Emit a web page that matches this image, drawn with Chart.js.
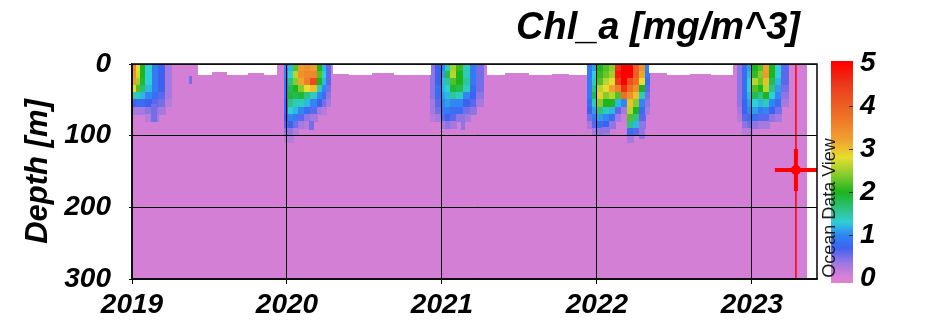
<!DOCTYPE html>
<html>
<head>
<meta charset="utf-8">
<script src="https://cdn.jsdelivr.net/npm/chart.js@4/dist/chart.umd.min.js"></script>
<style>
  html, body { margin: 0; padding: 0; background: #ffffff; }
  canvas { display: block; }
</style>
</head>
<body>
<canvas id="section" width="935" height="325"></canvas>
<script>
// ---- axes ----
const yearTicks = [2019, 2020, 2021, 2022, 2023];
const depthTicks = [0, 50, 100, 150, 200, 250, 300];
const depthLabels = [0, 100, 200, 300];
const colorTicks = [0, 1, 2, 3, 4, 5];
const timeMin = 2019;
const timeMax = 2023.42;

// ---- colour palette (Chl_a value -> colour) ----
const paletteValues = [0, 0.35, 0.7, 1.0, 1.3, 1.6, 2.0, 2.4, 2.8, 3.2, 3.8, 4.5, 5.0];
const paletteColors = ['#dc80d4', '#9c78e2', '#3e62f0', '#2f86f4', '#2ecfd6', '#2ec283',
                       '#1db41d', '#86cc2e', '#e6de2c', '#f0a22e', '#ee6e26', '#ea3a1c', '#ff0000'];

// ---- gridded field ----
const fieldStart = 2019.0;
const fieldEnd = 2023.355;
const fieldBottom = 300;
const fieldChl = 0.05;            // deep, low-chlorophyll water
const profileDepths = [0, 10, 20, 30, 40, 50, 60, 70, 80, 90, 100, 110, 120];

// spring bloom profiles: column edges (decimal year) and Chl_a per 10 m layer
const bloom2019Edges = [2019.000, 2019.032, 2019.058, 2019.090, 2019.135, 2019.168, 2019.213, 2019.258];
const bloom2019Chl = [
  [3.5, 3.4, 3.3, 2.8, 1.4, 0.7, 0.3],
  [2.8, 2.7, 2.5, 2.2, 1.4, 0.8, 0.3],
  [2.0, 2.0, 1.9, 1.7, 1.2, 0.8, 0.3],
  [1.3, 1.3, 1.3, 1.2, 1.0, 0.7, 0.4, 0.2],
  [0.9, 0.9, 0.9, 0.9, 0.8, 0.6, 0.4, 0.3],
  [0.7, 0.7, 0.7, 0.7, 0.6, 0.5, 0.3],
  [0.3, 0.3, 0.3, 0.3, 0.3, 0.2]
];

const bloom2020Edges = [2019.987, 2020.013, 2020.045, 2020.077, 2020.116, 2020.155, 2020.194, 2020.226, 2020.252, 2020.284];
const bloom2020Chl = [
  [1.0, 1.0, 0.9, 0.9, 0.9, 0.8, 0.8, 0.7, 0.6, 0.4, 0.2],
  [1.2, 1.3, 1.6, 1.8, 1.9, 1.6, 1.3, 1.0, 0.7, 0.4, 0.2],
  [2.2, 2.6, 2.4, 2.0, 1.8, 1.4, 1.2, 0.9, 0.5, 0.2],
  [3.3, 3.4, 3.2, 2.4, 1.9, 1.4, 1.0, 0.6, 0.3],
  [3.4, 3.5, 3.6, 2.8, 1.6, 1.2, 0.8, 0.4, 0.2],
  [3.3, 3.5, 4.3, 3.0, 1.4, 1.0, 0.6, 0.3],
  [2.0, 2.2, 2.0, 1.4, 1.0, 0.7, 0.3],
  [1.2, 1.3, 1.2, 1.0, 0.8, 0.5, 0.2],
  [0.6, 0.6, 0.6, 0.5, 0.4, 0.3]
];

const bloom2021Edges = [2020.929, 2020.961, 2020.994, 2021.026, 2021.058, 2021.097, 2021.142, 2021.187, 2021.226, 2021.265];
const bloom2021Chl = [
  [0.4, 0.4, 0.4, 0.4, 0.4, 0.3, 0.3, 0.2],
  [0.7, 0.7, 0.7, 0.8, 0.8, 0.6, 0.5, 0.3],
  [1.0, 1.1, 1.2, 1.2, 1.1, 1.0, 0.9, 0.6, 0.3],
  [1.4, 1.8, 1.5, 1.3, 1.2, 1.1, 0.9, 0.7, 0.4],
  [2.5, 2.6, 2.2, 1.9, 1.5, 1.0, 0.8, 0.6, 0.3],
  [2.1, 2.0, 2.0, 1.8, 1.4, 1.0, 0.8, 0.4],
  [1.4, 1.4, 1.5, 1.4, 1.0, 0.7, 0.5, 0.3],
  [0.9, 0.9, 0.9, 0.8, 0.7, 0.6, 0.4],
  [0.5, 0.5, 0.5, 0.5, 0.4, 0.3]
];

const bloom2022Edges = [2021.942, 2021.974, 2022.006, 2022.045, 2022.084, 2022.123, 2022.161, 2022.200, 2022.239, 2022.277, 2022.316, 2022.342];
const bloom2022Chl = [
  [0.9, 0.9, 0.9, 0.9, 0.9, 0.8, 0.7, 0.5, 0.3],
  [1.1, 1.3, 1.4, 1.6, 1.8, 1.4, 1.1, 0.9, 0.6, 0.3],
  [2.0, 2.1, 2.2, 2.6, 2.9, 2.4, 1.6, 1.1, 0.8, 0.4],
  [2.2, 2.3, 2.6, 2.8, 2.4, 2.0, 1.4, 1.0, 0.7, 0.3],
  [2.4, 2.5, 2.8, 3.2, 2.6, 2.0, 1.2, 0.8, 0.4],
  [4.6, 4.8, 4.5, 3.6, 2.2, 1.2, 0.6, 0.3],
  [5.0, 5.0, 5.0, 4.6, 3.8, 1.0, 0.3, 0.1],
  [5.0, 5.0, 4.2, 3.8, 3.4, 3.0, 2.6, 2.2, 1.6, 0.8, 0.3],
  [4.0, 4.0, 3.8, 3.4, 3.0, 2.4, 2.0, 1.6, 1.2, 0.6],
  [3.4, 3.2, 2.8, 2.0, 1.4, 1.0, 0.8, 0.6, 0.4],
  [1.0, 0.9, 0.8, 0.6, 0.5, 0.4, 0.3]
];

const bloom2023Edges = [2022.910, 2022.942, 2022.974, 2023.006, 2023.045, 2023.077, 2023.116, 2023.155, 2023.194, 2023.239];
const bloom2023Chl = [
  [0.4, 0.4, 0.4, 0.4, 0.4, 0.4, 0.3, 0.2],
  [0.8, 0.8, 0.8, 0.8, 0.8, 0.7, 0.7, 0.6, 0.4, 0.2],
  [1.1, 1.2, 1.3, 1.3, 1.2, 1.1, 1.0, 0.8, 0.5, 0.2],
  [2.0, 2.1, 2.6, 2.2, 1.8, 1.3, 1.1, 0.8, 0.4],
  [2.2, 2.4, 2.3, 2.0, 1.6, 1.2, 0.9, 0.6, 0.3],
  [3.2, 3.3, 3.0, 2.6, 2.0, 1.4, 1.0, 0.6, 0.3],
  [2.0, 2.0, 1.8, 1.6, 1.3, 1.0, 0.7, 0.4],
  [1.3, 1.3, 1.2, 1.1, 1.0, 0.8, 0.5, 0.3],
  [0.6, 0.6, 0.6, 0.5, 0.4, 0.3]
];

// isolated weak patches below and beside the blooms
const patchStart  = [2019.129, 2019.374, 2020.148, 2021.123, 2022.039, 2022.277];
const patchEnd    = [2019.155, 2019.387, 2020.168, 2021.148, 2022.084, 2022.310];
const patchTop    = [57, 18, 80, 70, 88, 88];
const patchBottom = [80, 27, 92, 92, 96, 104];
const patchChl    = [0.5, 0.5, 0.5, 0.4, 0.4, 0.4];

// near-surface layers without measurements
const gapStart = [2019.432, 2019.516, 2019.619, 2019.748, 2019.852,
                  2020.297, 2020.406, 2020.548, 2020.697, 2020.806,
                  2021.297, 2021.406, 2021.568, 2021.710, 2021.826,
                  2022.342, 2022.458, 2022.600, 2022.742];
const gapEnd   = [2019.516, 2019.619, 2019.748, 2019.852, 2019.935,
                  2020.406, 2020.548, 2020.697, 2020.806, 2020.923,
                  2021.406, 2021.568, 2021.710, 2021.826, 2021.935,
                  2022.458, 2022.600, 2022.742, 2022.877];
const gapDepth = [15, 11, 14, 12, 15,
                  13, 15, 12, 14, 15,
                  14, 12, 15, 13, 15,
                  12, 15, 13, 15];

// current station
const stationTime = 2023.284;
const stationDepth = 148;

// ---- helpers ----
function hexToRgb(h) {
  const n = parseInt(h.slice(1), 16);
  return [(n >> 16) & 255, (n >> 8) & 255, n & 255];
}
function chlColor(v) {
  const last = paletteValues.length - 1;
  v = Math.max(paletteValues[0], Math.min(paletteValues[last], v));
  for (let i = 1; i <= last; i++) {
    if (v <= paletteValues[i]) {
      const f = (v - paletteValues[i - 1]) / (paletteValues[i] - paletteValues[i - 1]);
      const a = hexToRgb(paletteColors[i - 1]), b = hexToRgb(paletteColors[i]);
      const c = a.map((av, k) => Math.round(av + (b[k] - av) * f));
      return `rgb(${c[0]},${c[1]},${c[2]})`;
    }
  }
  return paletteColors[last];
}

const blooms = [
  [bloom2019Edges, bloom2019Chl],
  [bloom2020Edges, bloom2020Chl],
  [bloom2021Edges, bloom2021Chl],
  [bloom2022Edges, bloom2022Chl],
  [bloom2023Edges, bloom2023Chl]
];

const labelFamily = "'Liberation Sans', Arial, Helvetica, sans-serif";
const tickFont = { family: labelFamily, size: 28, weight: 'bold', style: 'italic' };

// Draws the gridded Chl_a field under the datasets
const sectionPlugin = {
  id: 'chlSection',
  beforeDatasetsDraw(chart) {
    const { ctx, chartArea, scales: { x, y } } = chart;
    const cell = (t0, t1, d0, d1, color) => {
      const px0 = Math.floor(x.getPixelForValue(t0));
      const px1 = Math.ceil(x.getPixelForValue(t1));
      const py0 = Math.floor(y.getPixelForValue(d0));
      const py1 = Math.ceil(y.getPixelForValue(d1));
      ctx.fillStyle = color;
      ctx.fillRect(px0, py0, px1 - px0, py1 - py0);
    };
    ctx.save();
    ctx.beginPath();
    ctx.rect(chartArea.left, chartArea.top, chartArea.width, chartArea.height);
    ctx.clip();
    cell(fieldStart, fieldEnd, 0, fieldBottom, chlColor(fieldChl));
    blooms.forEach(([edges, profiles]) => {
      profiles.forEach((profile, i) => {
        profile.forEach((v, j) => {
          cell(edges[i], edges[i + 1], profileDepths[j], profileDepths[j + 1], chlColor(v));
        });
      });
    });
    patchChl.forEach((v, i) => cell(patchStart[i], patchEnd[i], patchTop[i], patchBottom[i], chlColor(v)));
    gapDepth.forEach((d, i) => cell(gapStart[i], gapEnd[i], 0, d, '#ffffff'));
    ctx.restore();
  },
  afterDraw(chart) {
    const { ctx, chartArea } = chart;
    ctx.save();
    // frame
    ctx.strokeStyle = '#111111';
    ctx.lineWidth = 1.6;
    ctx.strokeRect(chartArea.left, chartArea.top, chartArea.right - chartArea.left, chartArea.bottom - chartArea.top);

    // title
    ctx.fillStyle = '#000000';
    ctx.font = `italic bold 38px ${labelFamily}`;
    ctx.textAlign = 'center';
    ctx.textBaseline = 'alphabetic';
    ctx.fillText('Chl_a [mg/m^3]', 658, 39);

    // colour bar
    const barL = 831, barR = 853, yZero = 278, yFive = 63;
    const vy = v => yZero + (yFive - yZero) * v / 5;
    const grad = ctx.createLinearGradient(0, yZero, 0, yFive);
    paletteValues.forEach((v, i) => grad.addColorStop(v / 5, paletteColors[i]));
    ctx.fillStyle = grad;
    ctx.fillRect(barL, 61, barR - barL, 222);
    ctx.strokeStyle = '#333333';
    ctx.lineWidth = 1;
    colorTicks.slice(1, -1).forEach(v => {
      ctx.beginPath();
      ctx.moveTo(barR - 4, Math.round(vy(v)) + 0.5);
      ctx.lineTo(barR, Math.round(vy(v)) + 0.5);
      ctx.stroke();
    });
    ctx.fillStyle = '#000000';
    ctx.font = `italic bold 28px ${labelFamily}`;
    ctx.textAlign = 'left';
    ctx.textBaseline = 'middle';
    colorTicks.forEach(v => ctx.fillText(String(v), 860, vy(v)));

    // software credit along the bar
    ctx.translate(830, 208);
    ctx.rotate(-Math.PI / 2);
    ctx.font = `18px ${labelFamily}`;
    ctx.fillStyle = '#1a1a1a';
    ctx.textAlign = 'center';
    ctx.textBaseline = 'middle';
    ctx.fillText('Ocean Data View', 0, 0);
    ctx.restore();
  }
};

new Chart(document.getElementById('section'), {
  type: 'scatter',
  data: {
    datasets: [
      { data: [{ x: stationTime, y: stationDepth }], pointStyle: 'circle', pointRadius: 5,
        backgroundColor: '#ff0000', borderColor: '#ff0000', borderWidth: 0 },
      { data: [{ x: stationTime, y: stationDepth }], pointStyle: 'cross', pointRadius: 21,
        borderColor: '#ff0000', borderWidth: 4 },
      { data: [{ x: stationTime, y: 0 }, { x: stationTime, y: 300 }], showLine: true,
        borderColor: '#ff0000', borderWidth: 1.5, pointRadius: 0 }
    ]
  },
  options: {
    responsive: false,
    animation: false,
    devicePixelRatio: 1,
    layout: { padding: { top: 64, right: 118, left: 0, bottom: 0 } },
    plugins: { legend: { display: false }, tooltip: { enabled: false } },
    scales: {
      x: {
        type: 'linear', min: timeMin, max: timeMax, z: 1,
        afterBuildTicks: s => { s.ticks = yearTicks.map(v => ({ value: v })); },
        afterFit: s => { s.height = 46; },
        ticks: { font: tickFont, color: '#000000', padding: 4, maxRotation: 0, callback: v => String(v) },
        grid: { color: '#000000', lineWidth: 1, tickLength: 5, z: 1 },
        border: { color: '#111111', width: 1.6, z: 1 }
      },
      y: {
        type: 'linear', reverse: true, min: 0, max: 300, z: 1,
        afterBuildTicks: s => { s.ticks = depthTicks.map(v => ({ value: v })); },
        afterFit: s => { s.width = 132; },
        ticks: { font: tickFont, color: '#000000', padding: 18,
                 callback: v => depthLabels.includes(v) ? String(v) : '' },
        grid: {
          color: c => (c.tick && depthLabels.includes(c.tick.value)) ? '#000000' : 'rgba(0,0,0,0)',
          tickColor: '#000000', lineWidth: 1, tickLength: 3, z: 1
        },
        border: { color: '#111111', width: 1.6, z: 1 },
        title: { display: true, text: 'Depth [m]', color: '#000000',
                 font: { family: labelFamily, size: 31, weight: 'bold', style: 'italic' },
                 padding: { top: 20, bottom: 0 } }
      }
    }
  },
  plugins: [sectionPlugin]
});
</script>
</body>
</html>
